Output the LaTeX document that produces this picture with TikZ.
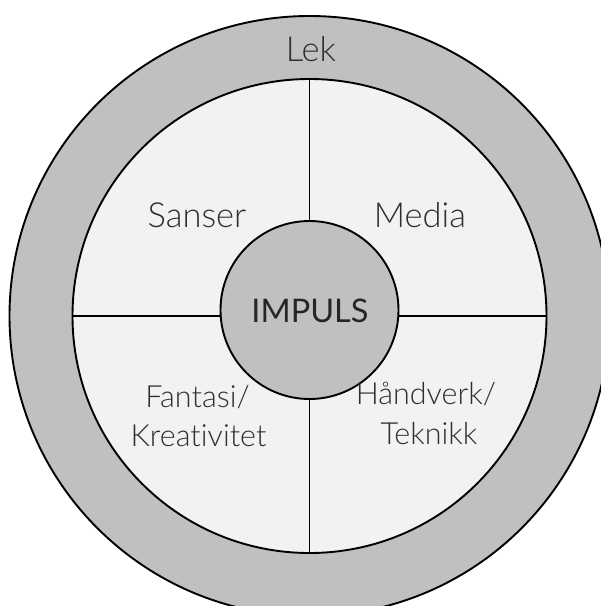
\documentclass[tikz,border=0pt]{standalone}
\usepackage{fontspec}
\setmainfont{Lato}
\newfontfamily\lightfont[Ligatures=NoCommon]{Lato Light}
\definecolor{ringgray}{HTML}{C0C0C0}
\definecolor{paleface}{HTML}{F2F2F2}
\definecolor{txtgray}{HTML}{2E2E2E}
\begin{document}
\begin{tikzpicture}[x=1pt,y=-1pt,
  ringcirc/.style={circle,draw=black,line width=1.9pt,inner sep=0pt},
  divline/.style={draw=black,line width=1.9pt},
  lbl/.style={anchor=base,inner sep=0pt,text=txtgray,font=\lightfont\fontsize{34.5}{40}\selectfont},
  lowlbl/.style={lbl,font=\lightfont\fontsize{30.5}{36}\selectfont},
  hub/.style={anchor=base,inner sep=0pt,text=black!85,font=\fontsize{32.5}{38}\selectfont}]
\useasboundingbox (0,0) rectangle (601,606);
\node[ringcirc,fill=ringgray,minimum size=600] (outer) at (309.5,316) {};
\node[ringcirc,fill=paleface,minimum size=474] (mid) at (309.5,316) {};
\draw[divline] (mid.north) -- (mid.south);
\draw[divline] (mid.west) -- (mid.east);
\node[ringcirc,fill=ringgray,minimum size=178] (core) at (309.5,310) {};
\node[lbl] (lek) at (311,61) {Lek};
\node[lbl] (sanser) at (197,227) {Sanser};
\node[lbl] (media) at (420,227) {Media};
\node[hub] (impuls) at (310,322) {IMPULS};
\node[lowlbl] (fantasi) at (197.5,407) {Fantasi/};
\node[lowlbl] (kreativ) at (198.5,446.5) {Kreativitet};
\node[lowlbl] (handverk) at (426,404) {Håndverk/};
\node[lowlbl] (teknikk) at (429,444) {Teknikk};
\end{tikzpicture}
\end{document}
